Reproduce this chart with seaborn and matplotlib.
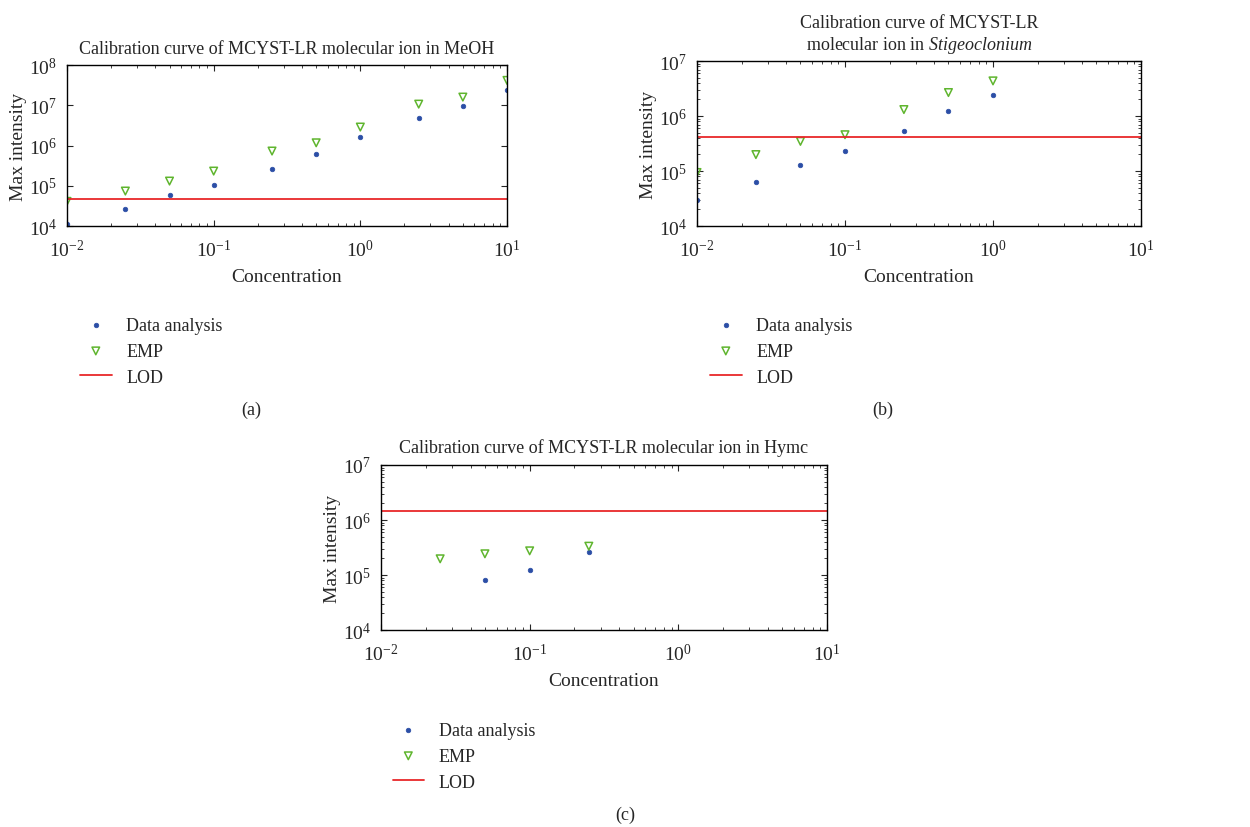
import matplotlib
matplotlib.use("Agg")
import matplotlib.pyplot as plt
from matplotlib.ticker import LogLocator
import seaborn as sns

# concentrations
conc_meoh = [0.01, 0.025, 0.05, 0.1, 0.25, 0.5, 1, 2.5, 5, 10]
conc_stig = [0.01, 0.025, 0.05, 0.1, 0.25, 0.5, 1]
conc_hymc_data = [0.05, 0.1, 0.25]
conc_hymc_emp = [0.025, 0.05, 0.1, 0.25]

# max intensity
meoh_data = [1.14e4, 2.6e4, 5.8e4, 1.02e5, 2.65e5, 6.3e5, 1.66e6, 4.9e6, 9.4e6, 2.4e7]
meoh_emp = [4.1e4, 7.4e4, 1.31e5, 2.32e5, 7.3e5, 1.17e6, 2.88e6, 1.07e7, 1.6e7, 4.16e7]
meoh_lod = 4.6e4

stig_data = [3.0e4, 6.2e4, 1.27e5, 2.28e5, 5.4e5, 1.21e6, 2.46e6]
stig_emp = [9.4e4, 1.99e5, 3.46e5, 4.57e5, 1.31e6, 2.67e6, 4.35e6]
stig_lod = 4.1e5

hymc_data = [8.2e4, 1.21e5, 2.6e5]
hymc_emp = [1.97e5, 2.43e5, 2.75e5, 3.34e5]
hymc_lod = 1.48e6

blue = '#2b4ea6'
green = '#5fb52e'
red = '#e8272a'

sns.set_style("ticks")
plt.rcParams['font.family'] = ['Liberation Serif', 'DejaVu Serif']
plt.rcParams['mathtext.fontset'] = 'custom'
plt.rcParams['mathtext.rm'] = 'Liberation Serif'
plt.rcParams['mathtext.it'] = 'Liberation Serif:italic'
plt.rcParams['font.size'] = 13


def panel(ax, x_data, y_data, x_emp, y_emp, lod, title, ytop, leg_xy):
    sns.scatterplot(x=x_data, y=y_data, ax=ax, marker='o', s=11, color=blue,
                    edgecolor=blue, linewidth=0.5, label='Data analysis')
    sns.scatterplot(x=x_emp, y=y_emp, ax=ax, marker='v', s=30, color=green,
                    facecolor='none', edgecolor=green, linewidth=1.1, label='EMP')
    ax.axhline(lod, color=red, lw=1.3, label='LOD')
    ax.set_xscale('log')
    ax.set_yscale('log')
    ax.set_xlim(1e-2, 10)
    ax.set_ylim(1e4, ytop)
    ax.yaxis.set_major_locator(LogLocator(base=10, numticks=12))
    ax.set_title(title, fontsize=13, pad=9)
    ax.set_xlabel('Concentration', fontsize=14, labelpad=6)
    ax.set_ylabel('Max intensity', fontsize=14, labelpad=1.5)
    ax.tick_params(which='both', direction='in', top=True, right=True, labelsize=14)
    ax.tick_params(axis='x', which='major', pad=9)
    ax.tick_params(axis='y', which='major', pad=7)
    ax.tick_params(which='major', length=4)
    ax.tick_params(which='minor', length=2)
    for s in ax.spines.values():
        s.set_linewidth(1.0)
        s.set_color('black')
    ax.legend(loc='upper left', bbox_to_anchor=leg_xy, bbox_transform=ax.figure.transFigure,
              frameon=False, fontsize=13, handlelength=1.75, handletextpad=0.8,
              labelspacing=0.5)


fig = plt.figure(figsize=(12.5, 8.28), dpi=100)

ax_a = fig.add_axes([0.0536, 0.7258, 0.352, 0.1944])
panel(ax_a, conc_meoh, meoh_data, conc_meoh, meoh_emp, meoh_lod,
      'Calibration curve of MCYST-LR molecular ion in MeOH', 1e8, (0.051, 0.636))

ax_b = fig.add_axes([0.5576, 0.7258, 0.3552, 0.1993])
panel(ax_b, conc_stig, stig_data, conc_stig, stig_emp, stig_lod,
      'Calibration curve of MCYST-LR\nmolecular ion in $\\it{Stigeoclonium}$', 1e7, (0.555, 0.636))

ax_c = fig.add_axes([0.3048, 0.2379, 0.3568, 0.1993])
panel(ax_c, conc_hymc_data, hymc_data, conc_hymc_emp, hymc_emp, hymc_lod,
      'Calibration curve of MCYST-LR molecular ion in Hymc', 1e7, (0.301, 0.147))

fig.text(251 / 1250, 1 - 410 / 828, '(a)', ha='center', va='center', fontsize=13)
fig.text(883 / 1250, 1 - 410 / 828, '(b)', ha='center', va='center', fontsize=13)
fig.text(625 / 1250, 1 - 815 / 828, '(c)', ha='center', va='center', fontsize=13)

fig.savefig('out.png', dpi=100)
